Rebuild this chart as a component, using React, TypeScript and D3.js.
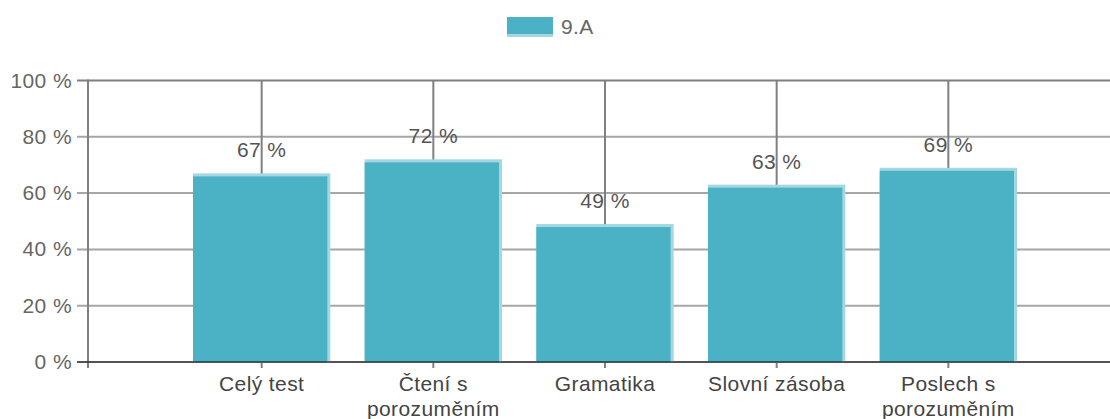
import React from "react";
import { scaleLinear, scalePoint } from "d3";

const categories = [["Celý test"], ["Čtení s", "porozuměním"], ["Gramatika"], ["Slovní zásoba"], ["Poslech s", "porozuměním"]];
const values = [67, 72, 49, 63, 69];
const yTicks = [0, 20, 40, 60, 80, 100];
const seriesName = "9.A";

const W = 1110;
const H = 419;
const FONT = "'Liberation Sans', Arial, sans-serif";

const App = () => {
  const keys = categories.map((c) => c.join(" "));
  // categories sit at positions 1..5 on a 0..6 axis
  const x = scalePoint<string>().domain(keys).range([90, 1120]).padding(1);
  const y = scaleLinear().domain([0, 100]).range([362, 80.5]);
  const barW = x.step() * 0.8;

  return (
    <svg width={W} height={H} style={{ position: "absolute", left: 0, top: 0 }} fontFamily={FONT} letterSpacing={0.4}>
      <rect width={W} height={H} fill="#fff" />

      {/* legend */}
      <rect x={507} y={17} width={46} height={20} fill="#4bb2c5" />
      <rect x={507} y={34} width={46} height={3} fill="#a3d7e2" />
      <text x={561} y={34} fontSize={21} fill="#666">{seriesName}</text>

      {/* horizontal grid */}
      {yTicks.map((t) => (
        <g key={t}>
          <line x1={77} x2={W} y1={y(t)} y2={y(t)} stroke={t === 100 ? "#7f7f7f" : "#a6a6a6"} strokeWidth={2} />
          <text x={72} y={y(t) + 7} textAnchor="end" fontSize={21} fill="#666">{t} %</text>
        </g>
      ))}

      {/* vertical lines at categories */}
      {keys.map((k) => (
        <line key={k} x1={x(k)} x2={x(k)} y1={y(100)} y2={y(0)} stroke="#808080" strokeWidth={2} />
      ))}

      {/* bars */}
      {keys.map((k, i) => {
        const bx = (x(k) as number) - barW / 2;
        const top = y(values[i]);
        return (
          <g key={k}>
            <rect x={bx} y={top} width={barW} height={y(0) - top} fill="#a3d7e2" />
            <rect x={bx} y={top + 3} width={barW - 3} height={y(0) - top - 3} fill="#4bb2c5" />
          </g>
        );
      })}

      {/* axes */}
      <line x1={88} x2={88} y1={y(100) - 1} y2={y(0) + 6} stroke="#808080" strokeWidth={2} />
      <line x1={77} x2={W} y1={y(0)} y2={y(0)} stroke="rgba(0,0,0,0.5)" strokeWidth={2} />
      {keys.map((k) => (
        <line key={k} x1={x(k)} x2={x(k)} y1={y(0) + 1} y2={y(0) + 6} stroke="#808080" strokeWidth={2} />
      ))}

      {/* value labels */}
      {keys.map((k, i) => (
        <text key={k} x={x(k)} y={y(values[i]) - 16} textAnchor="middle" fontSize={21} fill="#555">
          {values[i]} %
        </text>
      ))}

      {/* category labels */}
      {categories.map((lines, i) => (
        <text key={i} x={x(keys[i])} y={391} textAnchor="middle" fontSize={21} fill="#444">
          {lines.map((l, j) => (
            <tspan key={j} x={x(keys[i])} dy={j === 0 ? 0 : 25}>{l}</tspan>
          ))}
        </text>
      ))}
    </svg>
  );
};

export default App;
